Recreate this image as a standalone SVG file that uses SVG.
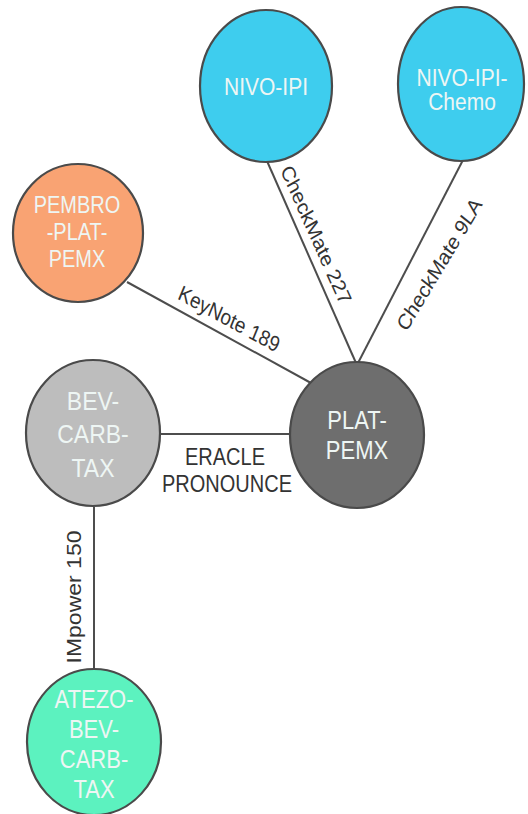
<svg xmlns="http://www.w3.org/2000/svg" width="528" height="814" viewBox="0 0 528 814">
<style>
.edge{stroke:#4d4d4d;stroke-width:2;fill:none}
.elabel{font-family:"Liberation Sans",Arial,sans-serif;font-size:19px;fill:#333;text-anchor:middle}
.node{stroke:#4a4a4a;stroke-width:2.2}
.ntext{font-family:"Liberation Sans",Arial,sans-serif;font-size:22px;fill:#eef6f4;text-anchor:middle}
</style>
<rect width="528" height="814" fill="#ffffff"/>
<g id="connectors">
<line class="edge" x1="267" y1="161" x2="356" y2="363"/>
<line class="edge" x1="463" y1="160" x2="358" y2="363"/>
<line class="edge" x1="127" y1="282" x2="311" y2="383"/>
<line class="edge" x1="160" y1="434" x2="291" y2="434"/>
<line class="edge" x1="94" y1="507" x2="94" y2="669"/>
<text class="elabel" transform="translate(304,242) scale(1,1.15) rotate(62.9)" x="0" y="-7">CheckMate 227</text>
<text class="elabel" transform="translate(439,264) scale(1,1.15) rotate(-55.5)" x="0" y="7">CheckMate 9LA</text>
<text class="elabel" transform="translate(223,334) scale(1,1.15) rotate(25.4)" x="0" y="-8">KeyNote 189</text>
<text class="elabel" transform="translate(225,465) scale(1,1.15)" x="0" y="0" style="font-size:20px">ERACLE</text>
<text class="elabel" transform="translate(227,492) scale(1,1.15)" x="0" y="0" style="font-size:20px">PRONOUNCE</text>
<text class="elabel" transform="translate(81,597) scale(1,1.15) rotate(-90)" x="0" y="0" style="font-size:20px">IMpower 150</text>
</g>
<g id="nivo-ipi">
<ellipse class="node" cx="266" cy="86" rx="66" ry="76" fill="#3ecdee"/>
<text class="ntext" transform="translate(266,95) scale(1,1.15)" style="font-size:21px">NIVO-IPI</text>
</g>
<g id="nivo-ipi-chemo">
<ellipse class="node" cx="461" cy="84" rx="63" ry="77" fill="#3ecdee"/>
<text class="ntext" transform="translate(462,86) scale(1,1.15)" style="font-size:21px"><tspan x="0" y="0">NIVO-IPI-</tspan><tspan x="0" y="20.5">Chemo</tspan></text>
</g>
<g id="pembro-plat-pemx">
<ellipse class="node" cx="78" cy="233" rx="65" ry="69" fill="#f9a373"/>
<text class="ntext" transform="translate(77,213) scale(1,1.15)" style="font-size:20px"><tspan x="0" y="0">PEMBRO</tspan><tspan x="0" y="23.5">-PLAT-</tspan><tspan x="0" y="47">PEMX</tspan></text>
</g>
<g id="bev-carb-tax">
<ellipse class="node" cx="93" cy="433" rx="67" ry="73" fill="#bdbdbd"/>
<text class="ntext" transform="translate(93,410) scale(1,1.15)" style="font-size:23px"><tspan x="0" y="0">BEV-</tspan><tspan x="0" y="29">CARB-</tspan><tspan x="0" y="58">TAX</tspan></text>
</g>
<g id="plat-pemx">
<ellipse class="node" cx="357" cy="435" rx="67" ry="73" fill="#6e6e6e"/>
<text class="ntext" transform="translate(357,429) scale(1,1.15)" style="font-size:22px"><tspan x="0" y="0">PLAT-</tspan><tspan x="0" y="26">PEMX</tspan></text>
</g>
<g id="atezo-bev-carb-tax">
<ellipse class="node" cx="94" cy="742" rx="67" ry="73" fill="#5cf2bf"/>
<text class="ntext" transform="translate(94,708) scale(1,1.15)" style="font-size:22px"><tspan x="0" y="0">ATEZO-</tspan><tspan x="0" y="26">BEV-</tspan><tspan x="0" y="52">CARB-</tspan><tspan x="0" y="78">TAX</tspan></text>
</g>
</svg>
